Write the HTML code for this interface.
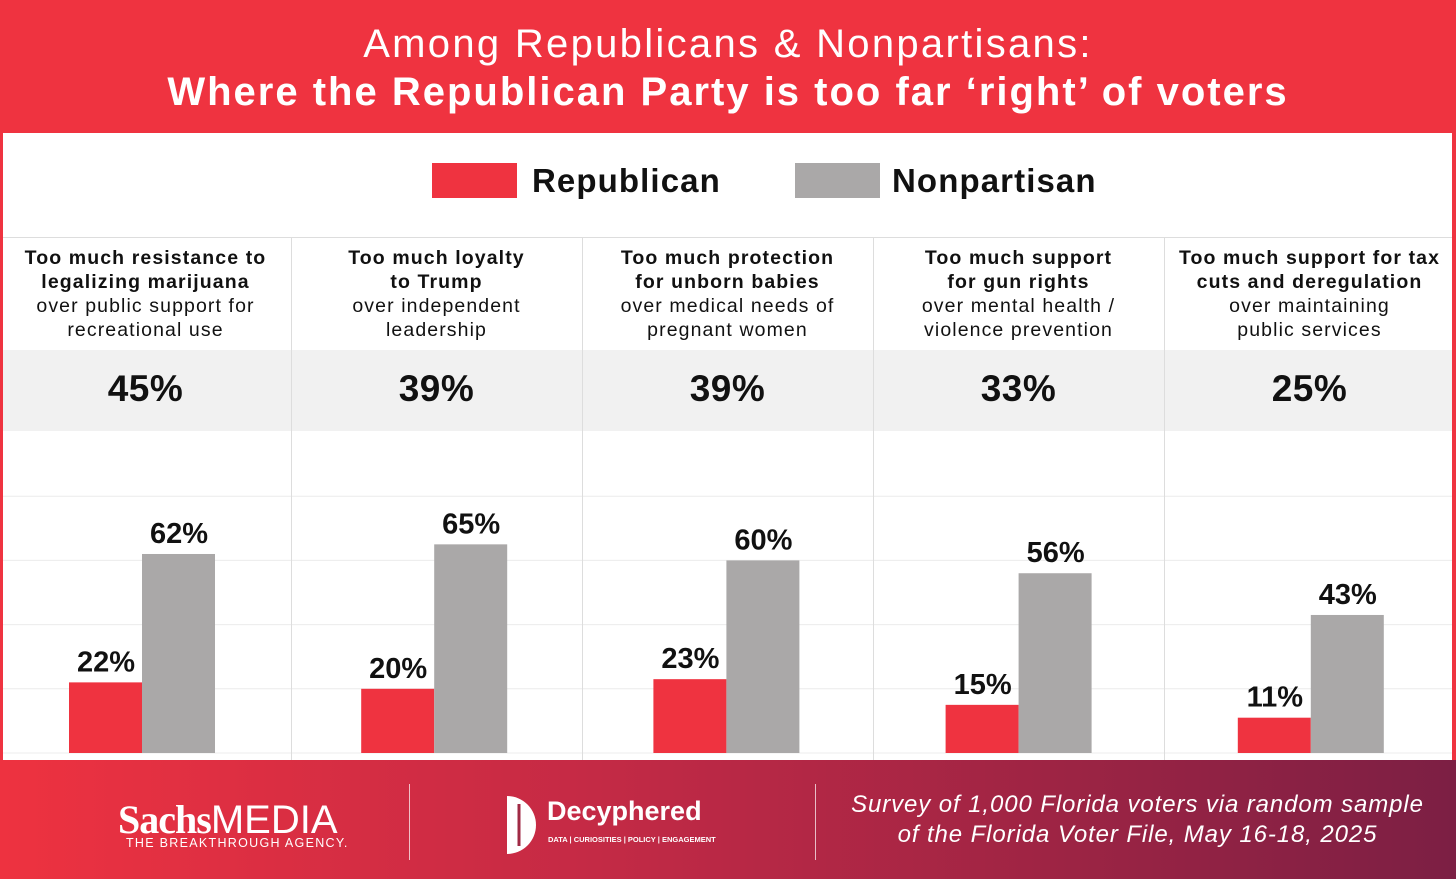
<!DOCTYPE html>
<html><head><meta charset="utf-8"><style>
*{margin:0;padding:0;box-sizing:border-box}
body{width:1456px;height:879px;overflow:hidden;background:#ef3340;font-family:"Liberation Sans",sans-serif;position:relative}
.abs{position:absolute}
#title1{top:22px;left:0;width:1456px;text-align:center;color:#fff;font-size:40px;font-weight:300;letter-spacing:2.3px}
#title2{top:70px;left:0;width:1456px;text-align:center;color:#fff;font-size:40px;font-weight:bold;letter-spacing:2px}
#panel{left:3px;top:133px;width:1449px;height:627px;background:#fff}
.lg{font-size:33px;font-weight:bold;color:#111;letter-spacing:1.1px}
.colhead{top:246px;width:291px;text-align:center;font-size:19.5px;line-height:24px;color:#111;letter-spacing:1.1px}
.colhead b{font-weight:bold}
.pct{top:368px;width:291px;text-align:center;font-size:37px;font-weight:bold;color:#111;letter-spacing:0.5px}
#footer{left:0;top:760px;width:1456px;height:119px;background:linear-gradient(90deg,#ee3240 0%,#c52a45 40%,#7c1f44 100%)}
</style></head><body>
<div class="abs" id="title1">Among Republicans &amp; Nonpartisans:</div>
<div class="abs" id="title2">Where the Republican Party is too far ‘right’ of voters</div>
<div class="abs" id="panel"></div>
<div class="abs" style="left:432px;top:163px;width:85px;height:35px;background:#ef3340"></div>
<div class="abs lg" style="left:532px;top:162px">Republican</div>
<div class="abs" style="left:795px;top:163px;width:85px;height:35px;background:#aaa8a8"></div>
<div class="abs lg" style="left:892px;top:162px">Nonpartisan</div>
<div class="abs" style="left:3px;top:237px;width:1449px;height:1px;background:#ddd"></div>
<div class="abs" style="left:3px;top:350px;width:1449px;height:81px;background:#f1f1f1"></div>
<svg class="abs" id="chart" style="left:0;top:0" width="1456" height="760"></svg>
<div id="cols"></div>
<div class="abs" id="footer">
 <div class="abs" style="left:118px;top:36px;color:#fff;font-family:'Liberation Serif',serif;font-size:40px;font-weight:bold;letter-spacing:-1px">Sachs<span style="font-family:'Liberation Sans',sans-serif;font-weight:300;letter-spacing:0">MEDIA</span></div>
 <div class="abs" style="left:126px;top:76px;color:#fff;font-size:12.5px;letter-spacing:1.3px">THE BREAKTHROUGH AGENCY.</div>
 <div class="abs" style="left:409px;top:24px;width:1px;height:76px;background:rgba(255,255,255,.7)"></div>
 <svg class="abs" style="left:505px;top:34px" width="40" height="62"><path d="M2 2 A29 29 0 0 1 2 60 Z" fill="#fff"/><path d="M14 10 L14 52" stroke="#a02a44" stroke-width="3"/></svg>
 <div class="abs" style="left:547px;top:36px;color:#fff;font-size:27px;font-weight:bold;letter-spacing:0">Decyphered</div>
 <div class="abs" style="left:548px;top:75px;color:#fff;font-size:7.5px;font-weight:bold">DATA | CURIOSITIES | POLICY | ENGAGEMENT</div>
 <div class="abs" style="left:815px;top:24px;width:1px;height:76px;background:rgba(255,255,255,.7)"></div>
 <div class="abs" style="left:830px;top:30px;width:615px;text-align:center;color:#fff;font-size:24px;font-style:italic;line-height:30px;font-weight:300;letter-spacing:0.9px">Survey of 1,000 Florida voters via random sample<br>of the Florida Voter File, May 16-18, 2025</div>
</div>
<script>
const headsBold=[["Too much resistance to","legalizing marijuana"],["Too much loyalty","to Trump"],["Too much protection","for unborn babies"],["Too much support","for gun rights"],["Too much support for tax","cuts and deregulation"]];
const headsNorm=[["over public support for","recreational use"],["over independent","leadership"],["over medical needs of","pregnant women"],["over mental health /","violence prevention"],["over maintaining","public services"]];
const totals=[45,39,39,33,25];
const republican=[22,20,23,15,11];
const nonpartisan=[62,65,60,56,43];
const gridTicks=[0,20,40,60,80];

const colW=291,x0=0;
const base=753,pxPer=3.21;
const y=v=>base-v*pxPer;
const colX=i=>x0+i*colW;
const barCX=i=>146+i*292.2;
const svg=document.getElementById('chart');
const NS='http://www.w3.org/2000/svg';
function mk(t,a){const e=document.createElementNS(NS,t);for(const k in a)e.setAttribute(k,a[k]);svg.appendChild(e);return e;}
gridTicks.forEach(t=>{
 const l=mk('line',{x1:3,x2:1452,y1:y(t),y2:y(t),stroke:'#ececec','stroke-width':1});
 
 
});
for(let i=1;i<5;i++){
 const l=mk('line',{x1:colX(i)+0.5,x2:colX(i)+0.5,y1:238,y2:760,stroke:'#ddd','stroke-width':1});
 
 
}
const cols=document.getElementById('cols');
totals.forEach((t,i)=>{
 const cx=barCX(i);
 const h=document.createElement('div');
 h.className='abs colhead';h.style.left=colX(i)+'px';
 h.innerHTML='<b>'+headsBold[i].join('<br>')+'</b><br>'+headsNorm[i].join('<br>');
 
 
 cols.appendChild(h);
 const p=document.createElement('div');
 p.className='abs pct';p.style.left=colX(i)+'px';p.textContent=t+'%';
 
 
 cols.appendChild(p);
 const r=mk('rect',{x:cx-77,y:y(republican[i]),width:73,height:republican[i]*pxPer,fill:'#ef3340'});
 
 
 const g=mk('rect',{x:cx-4,y:y(nonpartisan[i]),width:73,height:nonpartisan[i]*pxPer,fill:'#aaa8a8'});
 
 
 const rt=mk('text',{x:cx-40,y:y(republican[i])-11,'text-anchor':'middle','font-size':29,'font-weight':'bold','font-family':'Liberation Sans, sans-serif',fill:'#111'});
 rt.textContent=republican[i]+'%';
 
 
 const gt=mk('text',{x:cx+33,y:y(nonpartisan[i])-11,'text-anchor':'middle','font-size':29,'font-weight':'bold','font-family':'Liberation Sans, sans-serif',fill:'#111'});
 gt.textContent=nonpartisan[i]+'%';
 
 
});
</script>
</body></html>
